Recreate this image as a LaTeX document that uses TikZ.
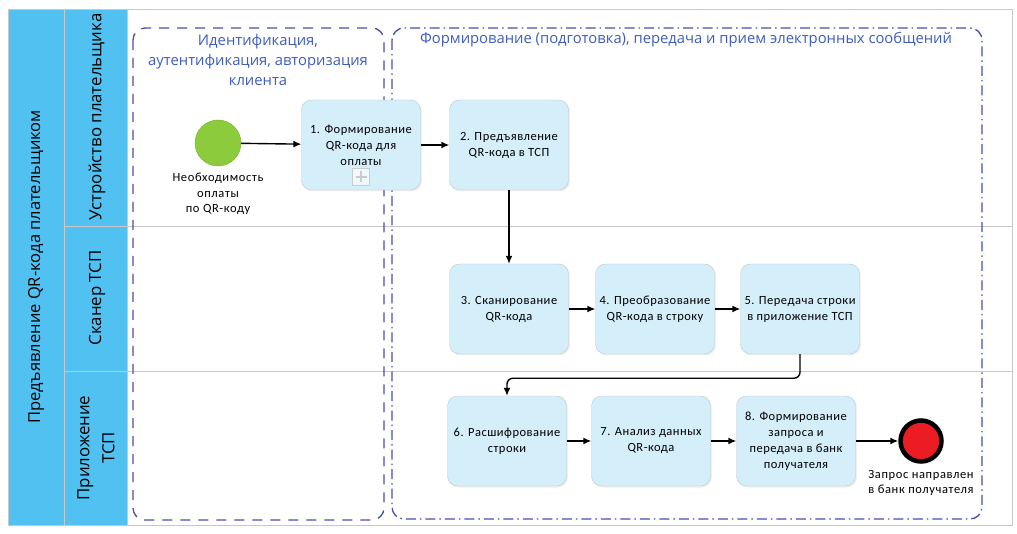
\documentclass[tikz,border=0pt]{standalone}
\usepackage{fontspec}
\setmainfont{Carlito}
\newfontfamily\headfont{Open Sans}
\usetikzlibrary{arrows.meta,positioning,shadows}

\definecolor{laneblue}{RGB}{80,193,240}
\definecolor{taskfill}{RGB}{212,238,250}
\definecolor{taskline}{RGB}{188,198,204}
\definecolor{grpline}{RGB}{72,78,178}
\definecolor{grptext}{RGB}{62,92,190}
\definecolor{startgreen}{RGB}{140,204,60}
\definecolor{endred}{RGB}{236,28,36}
\definecolor{framegray}{RGB}{200,200,200}

\begin{document}
\begin{tikzpicture}[x=1pt, y=-1pt, node distance=1cm, on grid,
	task/.style={draw=taskline, fill=taskfill, rounded corners=10pt,
		minimum width=119pt, minimum height=90pt, align=center, inner sep=1pt,
		font=\fontsize{12.5}{16}\selectfont\addfontfeatures{LetterSpace=4},
		drop shadow={opacity=0.12, shadow xshift=1.5pt, shadow yshift=-1.5pt}},
	startev/.style={circle, fill=startgreen, draw=startgreen!85!black, line width=0.4pt, minimum size=46pt},
	endev/.style={circle, fill=endred, draw=black, line width=4.5pt, minimum size=41pt},
	evlabel/.style={align=center, font=\fontsize{12.5}{15.5}\selectfont\addfontfeatures{LetterSpace=5}},
	lanelabel/.style={rotate=90, align=center, font=\headfont\fontsize{16.8}{25}\selectfont},
	grptitle/.style={align=center, text=grptext, font=\headfont\fontsize{14.8}{20}\selectfont},
	plusmark/.style={draw=black!20, line width=0.8pt, fill=white!60!taskfill, minimum size=17pt, inner sep=0pt,
		path picture={\draw[black!20, line width=2.6pt]
			([yshift=-3pt]path picture bounding box.north) -- ([yshift=3pt]path picture bounding box.south)
			([xshift=3pt]path picture bounding box.west) -- ([xshift=-3pt]path picture bounding box.east);}},
	flow/.style={-{Latex[length=8pt,width=7pt]}, line width=1.4pt}]
	\useasboundingbox (0,0) rectangle (1017,534);

	% pool and lanes
	\fill[laneblue] (8,9) rectangle (127,525);
	\draw[framegray] (8,9) rectangle (1012,525);
	\draw[framegray] (64,9) -- (64,525) (127,9) -- (127,525);
	\draw[framegray] (64,226) -- (1012,226) (64,371) -- (1012,371);
	\node	(pool)	[lanelabel, font=\headfont\fontsize{16.5}{25}\selectfont]	at (36,267)	{Предъявление QR-кода плательщиком};
	\node	(lane1)	[lanelabel]	at (97,117)	{Устройство плательщика};
	\node	(lane2)	[lanelabel]	at (97,298)	{Сканер ТСП};
	\node	(lane3)	[lanelabel]	at (96,448)	{Приложение\\ТСП};

	% groups
	\draw[grpline, line width=1.3pt, rounded corners=12pt, dash pattern=on 10pt off 8pt]
		(133,28) rectangle (384,520);
	\draw[grpline, line width=1.3pt, rounded corners=12pt, dash pattern=on 10pt off 4pt on 1.5pt off 4pt]
		(392,28) rectangle (982,519);
	\node	(grp1)	[grptitle]	at (258,60)	{Идентификация,\\аутентификация, авторизация\\клиента};
	\node	(grp2)	[grptitle]	at (686,40)	{Формирование (подготовка), передача и прием электронных сообщений};

	% events and tasks
	\node	(start)		[startev]	at (218,143)	{};
	\node	(startlbl)	[evlabel, below=51pt of start]	{Необходимость\\оплаты\\по QR-коду};
	\node	(t1)	[task]	at (361,145)	{1. Формирование\\QR-кода для\\оплаты};
	\node	(mk)	[plusmark, below=32pt of t1]	{};
	\node	(t2)	[task, right=148pt of t1]	{2. Предъявление\\QR-кода в ТСП};
	\node	(t3)	[task, below=164pt of t2]	{3. Сканирование\\QR-кода};
	\node	(t4)	[task, right=146pt of t3]	{4. Преобразование\\QR-кода в строку};
	\node	(t5)	[task, right=145pt of t4]	{5. Передача строки\\в приложение ТСП};
	\node	(t6)	[task, below=132pt of t3, xshift=-2pt]	{6. Расшифрование\\строки};
	\node	(t7)	[task, right=144pt of t6]	{7. Анализ данных\\QR-кода};
	\node	(t8)	[task, right=145pt of t7]	{8. Формирование\\запроса и\\передача в банк\\получателя};
	\node	(finish)	[endev, right=125pt of t8]	{};
	\node	(finlbl)	[evlabel, below=42pt of finish]	{Запрос направлен\\в банк получателя};

	\path [flow]
	(start)	edge	(t1)
	(t1)	edge	(t2)
	(t2)	edge	(t3)
	(t3)	edge	(t4)
	(t4)	edge	(t5)
	(t6)	edge	(t7)
	(t7)	edge	(t8)
	(t8)	edge	(finish)
	;
	\draw [flow, rounded corners=6pt] (t5.south) -- ++(0pt,-24pt) -| (t6.north);
\end{tikzpicture}
\end{document}
